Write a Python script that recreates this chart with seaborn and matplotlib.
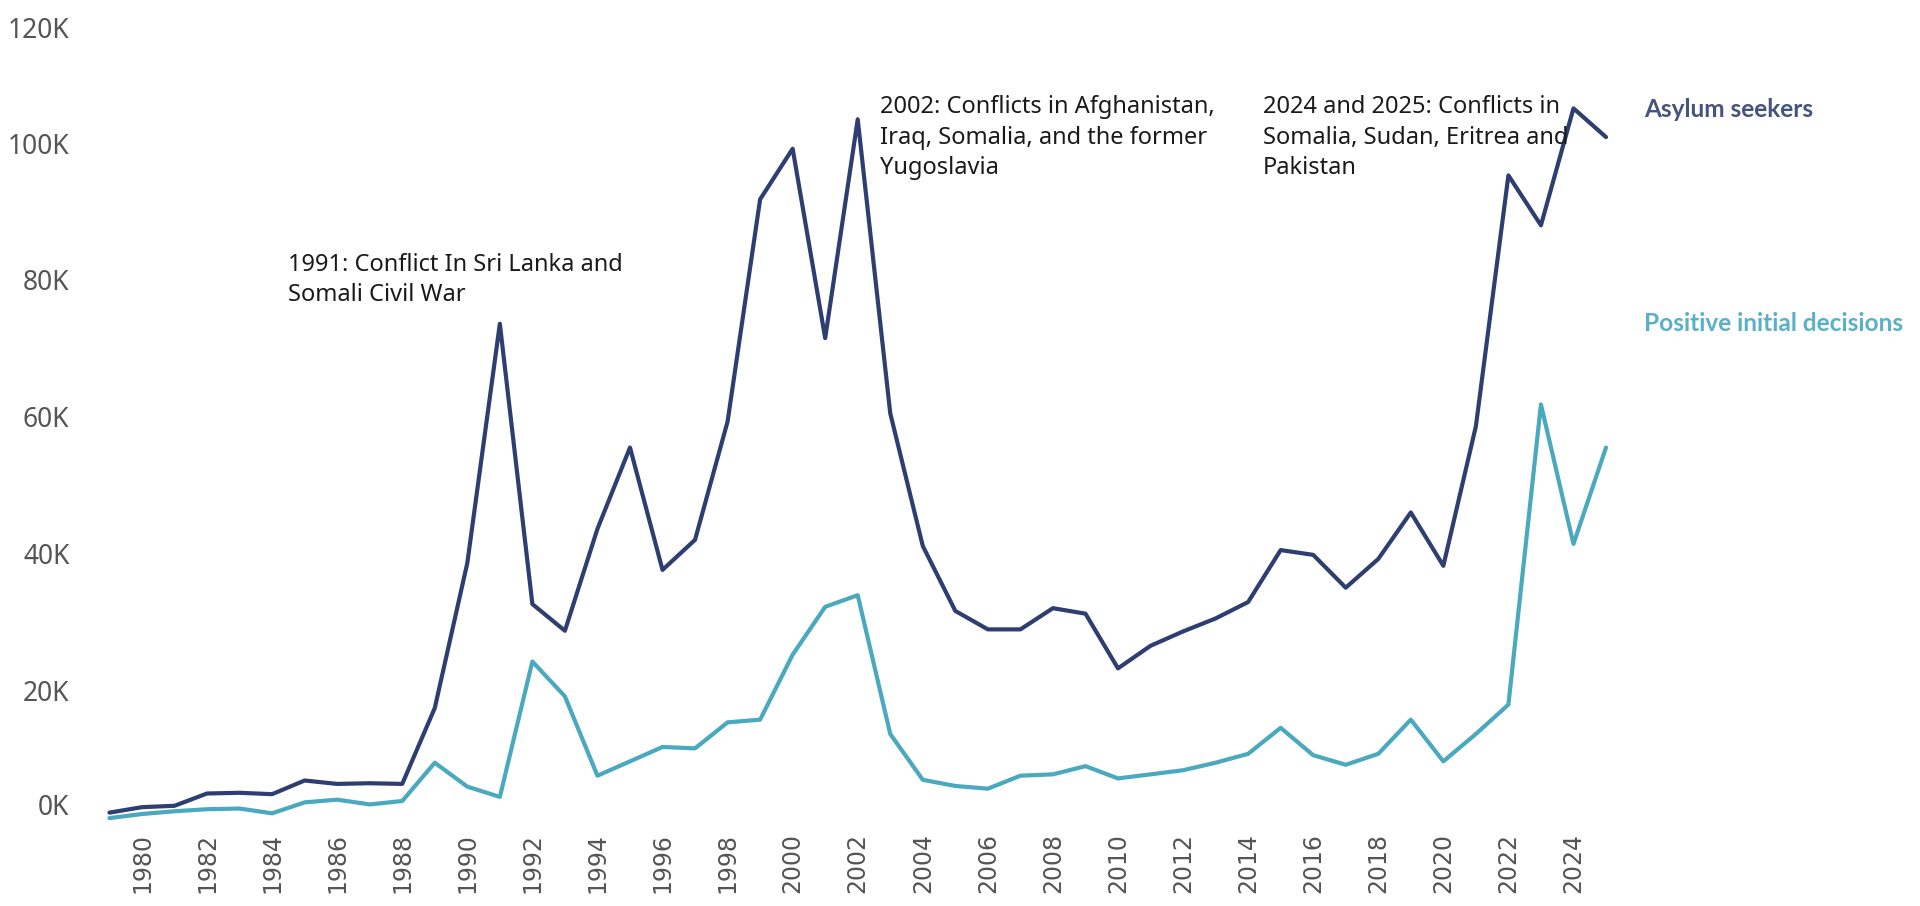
import numpy as np
import pandas as pd
import matplotlib
matplotlib.use("Agg")
import matplotlib.pyplot as plt
import matplotlib.transforms as mtransforms
import seaborn as sns

years = list(range(1979, 2026))
asylum_seekers = [
    2100, 2900, 3100, 4900, 5000, 4800, 6800, 6300, 6400, 6300,
    17400, 38600, 73600, 32600, 28700, 43600, 55500, 37600, 42000, 59300,
    91800, 99200, 71500, 103500, 60500, 41100, 31600, 28900, 28900, 32000,
    31200, 23200, 26500, 28600, 30500, 32900, 40500, 39800, 35000, 39200,
    46000, 38200, 58600, 95300, 88000, 105100, 100900,
]
positive_decisions = [
    1300, 1900, 2300, 2600, 2700, 2000, 3600, 4000, 3300, 3800,
    9400, 5900, 4400, 24200, 19100, 7500, 9600, 11700, 11500, 15300,
    15700, 25200, 32200, 33900, 13600, 6900, 6000, 5600, 7500, 7700,
    8900, 7100, 7700, 8300, 9400, 10700, 14500, 10500, 9100, 10700,
    15700, 9600, 13600, 17900, 61800, 41400, 55500,
]
series_names = ["Asylum seekers", "Positive initial decisions"]
series_colors = ["#2e3e70", "#4aa8bf"]
label_colors = ["#44547f", "#5ab0c6"]
y_ticks = [0, 20000, 40000, 60000, 80000, 100000, 120000]
y_tick_labels = ["0K", "20K", "40K", "60K", "80K", "100K", "120K"]
x_ticks = list(range(1980, 2025, 2))
annotations = [
    (1984.5, 84000, "1991: Conflict In Sri Lanka and\nSomali Civil War"),
    (2002.7, 107000, "2002: Conflicts in Afghanistan,\nIraq, Somalia, and the former\nYugoslavia"),
    (2014.45, 107000, "2024 and 2025: Conflicts in\nSomalia, Sudan, Eritrea and\nPakistan"),
]

df = pd.DataFrame({
    "Year": years * 2,
    "Value": asylum_seekers + positive_decisions,
    "Series": [series_names[0]] * len(years) + [series_names[1]] * len(years),
})

sns.set_theme(style="white")
plt.rcParams["font.family"] = ["Noto Sans", "DejaVu Sans"]

fig = plt.figure(figsize=(19.2, 9.06), dpi=100)
ax = fig.add_axes([100 / 1920, 76 / 906, 1520 / 1920, 830 / 906])

sns.lineplot(data=df, x="Year", y="Value", hue="Series",
             palette=dict(zip(series_names, series_colors)),
             linewidth=3.0, legend=False, ax=ax)

ax.set_xlim(1978.71, 2025.43)
ax.set_ylim(-440, 120950)
for s in ax.spines.values():
    s.set_visible(False)
ax.grid(False)
ax.set_xlabel("")
ax.set_ylabel("")

ax.set_yticks(y_ticks)
ax.set_yticklabels(y_tick_labels, fontsize=19, color="#555555")
ax.set_xticks(x_ticks)
ax.set_xticklabels([str(y) for y in x_ticks], rotation=90, fontsize=17,
                   color="#555555", family=["Liberation Sans Narrow", "DejaVu Sans"])
ax.tick_params(axis="y", length=0, pad=22)
ax.tick_params(axis="x", length=0, pad=2)

ticks = ax.yaxis.get_major_ticks()
up = mtransforms.ScaledTranslation(0, 0.22, fig.dpi_scale_trans)
down = mtransforms.ScaledTranslation(0, -0.21, fig.dpi_scale_trans)
ticks[0].label1.set_transform(ticks[0].label1.get_transform() + up)
ticks[-1].label1.set_transform(ticks[-1].label1.get_transform() + down)

for x, y, txt in annotations:
    ax.text(x, y, txt, fontsize=17, color="#1a1a1a", va="top", ha="left",
            linespacing=1.35)

ax.text(2026.16, 105000, series_names[0], fontsize=17.6, fontweight="bold",
        family=["Lato", "DejaVu Sans"],
        color=label_colors[0], va="center", ha="left", clip_on=False)
ax.text(2026.16, 73600, series_names[1], fontsize=17.6, fontweight="bold",
        family=["Lato", "DejaVu Sans"],
        color=label_colors[1], va="center", ha="left", clip_on=False)

fig.savefig("out.png", dpi=100, facecolor="white")
